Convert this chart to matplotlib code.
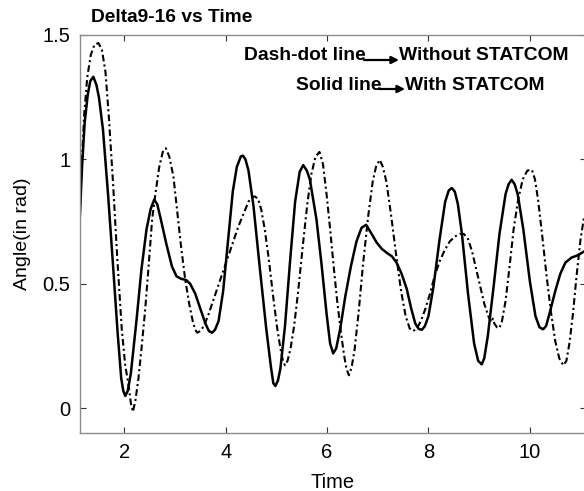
import matplotlib.pyplot as plt

plt.rcParams.update(
    {
        "font.family": ["Liberation Sans", "DejaVu Sans"],
        "font.size": 14,
        "xtick.labelsize": 14.5,
        "ytick.labelsize": 14.5,
    }
)

# Delta9-16, with STATCOM (solid line)
t_with = [
    1.12, 1.17, 1.22, 1.28, 1.33, 1.39,
    1.45, 1.50, 1.58, 1.68, 1.78, 1.87, 1.94, 1.98, 2.02,
    2.07, 2.13, 2.24, 2.34, 2.44, 2.52, 2.59,
    2.65, 2.72, 2.83, 2.94, 3.03, 3.12, 3.22, 3.30, 3.40, 3.50, 3.60, 3.67, 3.73,
    3.79, 3.86, 3.95, 4.05, 4.14, 4.22, 4.30, 4.34,
    4.39, 4.45, 4.55, 4.67, 4.80, 4.89, 4.94, 4.98,
    5.03, 5.08, 5.17, 5.27, 5.37, 5.46, 5.53,
    5.60, 5.66, 5.79, 5.89, 5.99, 6.06, 6.12,
    6.18, 6.26, 6.36, 6.47, 6.58, 6.68, 6.77,
    6.88, 6.98, 7.08, 7.18, 7.28, 7.37, 7.47, 7.57, 7.66, 7.74, 7.81, 7.87,
    7.93, 8.00, 8.10, 8.22, 8.33, 8.40, 8.46,
    8.52, 8.58, 8.66, 8.78, 8.90, 8.98, 9.05,
    9.10, 9.17, 9.28, 9.40, 9.52, 9.58, 9.64,
    9.70, 9.76, 9.87, 10.00, 10.11, 10.19, 10.26,
    10.32, 10.40, 10.50, 10.60, 10.70, 10.82, 10.95, 11.07,
]
delta_with = [
    0.75, 0.98, 1.15, 1.26, 1.315, 1.332,
    1.30, 1.25, 1.12, 0.86, 0.57, 0.30, 0.12, 0.07, 0.049,
    0.07, 0.14, 0.35, 0.56, 0.72, 0.80, 0.838,
    0.82, 0.76, 0.66, 0.57, 0.53, 0.52, 0.515, 0.50, 0.46, 0.40, 0.34, 0.31, 0.303,
    0.315, 0.35, 0.47, 0.68, 0.87, 0.97, 1.012, 1.015,
    1.00, 0.955, 0.81, 0.57, 0.32, 0.17, 0.10, 0.089,
    0.11, 0.16, 0.33, 0.59, 0.83, 0.95, 0.977,
    0.955, 0.92, 0.76, 0.58, 0.38, 0.26, 0.22,
    0.24, 0.32, 0.45, 0.57, 0.67, 0.725, 0.737,
    0.70, 0.665, 0.64, 0.624, 0.61, 0.585, 0.54, 0.48, 0.40, 0.34, 0.318, 0.315,
    0.33, 0.37, 0.49, 0.68, 0.83, 0.875, 0.885,
    0.87, 0.82, 0.70, 0.46, 0.26, 0.19, 0.176,
    0.20, 0.29, 0.48, 0.70, 0.86, 0.90, 0.918,
    0.90, 0.86, 0.72, 0.51, 0.37, 0.325, 0.317,
    0.33, 0.39, 0.47, 0.54, 0.585, 0.605, 0.615, 0.63,
]

# Delta9-16, without STATCOM (dash-dot line)
t_without = [
    1.12, 1.16, 1.21, 1.27, 1.34, 1.41, 1.49,
    1.56, 1.63, 1.70, 1.78, 1.86, 1.95, 2.02, 2.08, 2.13, 2.17,
    2.22, 2.28, 2.34, 2.41, 2.48, 2.55, 2.62, 2.69, 2.76, 2.82,
    2.89, 2.97, 3.05, 3.12, 3.20, 3.28, 3.35, 3.40, 3.44,
    3.50, 3.57, 3.65, 3.75, 3.85, 3.95, 4.05, 4.15, 4.25, 4.35, 4.45, 4.52, 4.58,
    4.64, 4.70, 4.77, 4.85, 4.93, 5.01, 5.08, 5.13, 5.17,
    5.22, 5.28, 5.35, 5.43, 5.52, 5.61, 5.69, 5.77, 5.85,
    5.92, 5.99, 6.06, 6.13, 6.20, 6.27, 6.33, 6.38, 6.43,
    6.48, 6.54, 6.62, 6.71, 6.81, 6.90, 6.97, 7.04,
    7.10, 7.17, 7.26, 7.36, 7.46, 7.55, 7.63, 7.70,
    7.77, 7.85, 7.94, 8.03, 8.12, 8.22, 8.32, 8.42, 8.52, 8.62, 8.70,
    8.78, 8.86, 8.94, 9.02, 9.10, 9.18, 9.24, 9.27, 9.30, 9.35, 9.40,
    9.45, 9.52, 9.60, 9.68, 9.77, 9.86, 9.95, 10.04,
    10.10, 10.16, 10.24, 10.33, 10.42, 10.50, 10.58, 10.66,
    10.72, 10.78, 10.85, 10.92, 11.00, 11.07,
]
delta_without = [
    0.75, 0.98, 1.18, 1.33, 1.42, 1.46, 1.468,
    1.44, 1.35, 1.16, 0.90, 0.61, 0.32, 0.17, 0.10, 0.02, -0.015,
    0.03, 0.12, 0.24, 0.39, 0.57, 0.76, 0.87, 0.97, 1.03, 1.045,
    1.01, 0.93, 0.78, 0.65, 0.52, 0.42, 0.35, 0.315, 0.303,
    0.31, 0.33, 0.37, 0.43, 0.49, 0.55, 0.61, 0.67, 0.73, 0.78, 0.83, 0.848, 0.851,
    0.84, 0.80, 0.72, 0.60, 0.46, 0.33, 0.24, 0.19, 0.172,
    0.19, 0.24, 0.33, 0.47, 0.65, 0.82, 0.94, 1.01, 1.03,
    0.98, 0.86, 0.72, 0.57, 0.43, 0.31, 0.22, 0.16, 0.132,
    0.16, 0.23, 0.38, 0.58, 0.77, 0.91, 0.975, 0.998,
    0.97, 0.91, 0.78, 0.62, 0.47, 0.37, 0.32, 0.31,
    0.32, 0.35, 0.40, 0.46, 0.53, 0.59, 0.635, 0.67, 0.69, 0.70, 0.70,
    0.68, 0.63, 0.56, 0.49, 0.42, 0.37, 0.345, 0.36, 0.34, 0.325, 0.322,
    0.35, 0.43, 0.57, 0.72, 0.84, 0.92, 0.955, 0.958,
    0.92, 0.84, 0.70, 0.53, 0.38, 0.27, 0.20, 0.172,
    0.19, 0.26, 0.38, 0.53, 0.68, 0.77,
]

x_ticks = [2, 4, 6, 8, 10]
y_ticks = [0, 0.5, 1, 1.5]
y_tick_labels = ["0", "0.5", "1", "1.5"]

W, H = 584, 491
fig = plt.figure(figsize=(W / 100, H / 100), dpi=100)
# axes box in pixels: left 80, right 586 (just past the picture edge), top 35, bottom 433
ax = fig.add_axes([80 / W, (H - 433) / H, (586 - 80) / W, (433 - 35) / H])

ax.plot(t_with, delta_with, color="black", linewidth=1.8, solid_joinstyle="round")
ax.plot(t_without, delta_without, color="black", linewidth=1.5,
        linestyle=(0, (3.2, 1.5, 1, 1.5)))

ax.set_xlim(1.127, 11.107)
ax.set_ylim(-0.1, 1.5)
ax.set_xticks(x_ticks)
ax.set_yticks(y_ticks)
ax.set_yticklabels(y_tick_labels)
ax.tick_params(direction="in", length=4, width=0.8, color="#333333",
               top=True, right=True, pad=7)
for s in ax.spines.values():
    s.set_color("#8c8c8c")
    s.set_linewidth(1.0)

ax.set_xlabel("Time", fontsize=14.5, labelpad=8)
ax.set_ylabel("Angle(in rad)", fontsize=14, labelpad=8)

fig.text(91 / W, 1 - 17 / H, "Delta9-16 vs Time", fontsize=13.8, fontweight="bold",
         ha="left", va="center")


# legend-like notes with arrows
def note(left, x0, x1, right, y, ya):
    fig.text(x0 / W, 1 - y / H, left, fontsize=13.9, fontweight="bold",
             ha="right", va="center")
    fig.text(x1 / W, 1 - y / H, right, fontsize=13.9, fontweight="bold",
             ha="left", va="center")
    ax.annotate("", xy=(x1 / W, 1 - ya / H), xytext=((x0 - 2) / W, 1 - ya / H),
                xycoords="figure fraction", textcoords="figure fraction",
                arrowprops=dict(arrowstyle="-|>", color="black", lw=1.6,
                                mutation_scale=11, shrinkA=0, shrinkB=0))


note("Dash-dot line", 366, 399, "Without STATCOM", 56, 60)
note("Solid line", 381, 405, "With STATCOM", 85, 89)

fig.savefig("out.png", dpi=100)
